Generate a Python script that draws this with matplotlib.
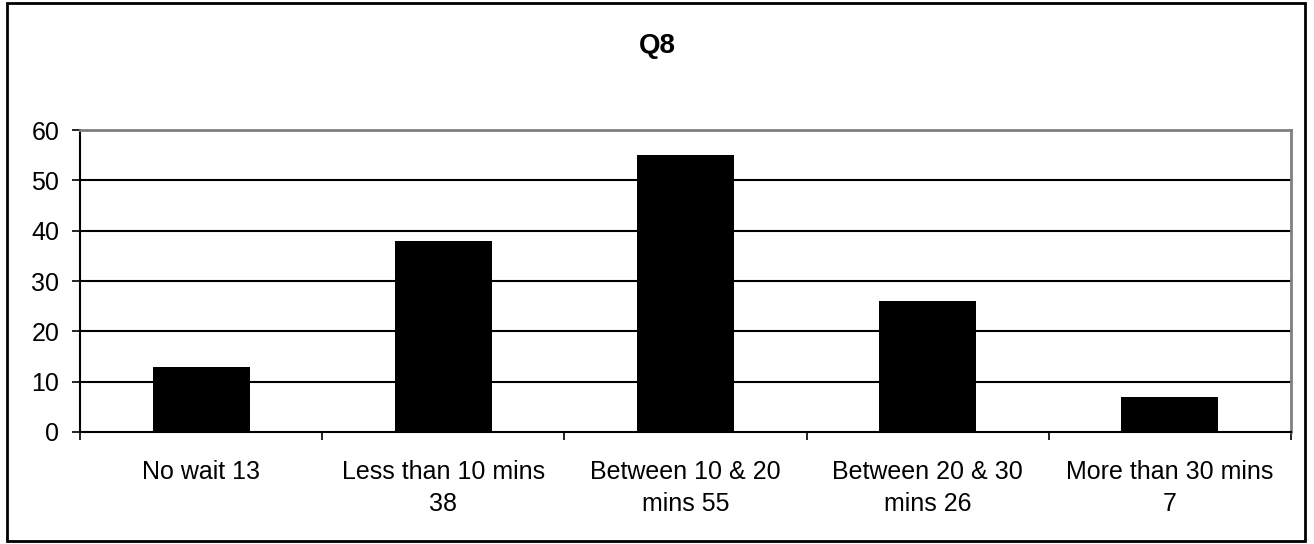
import matplotlib.pyplot as plt
from matplotlib.patches import Rectangle

categories = ['No wait 13', 'Less than 10 mins\n38', 'Between 10 & 20\nmins 55',
              'Between 20 & 30\nmins 26', 'More than 30 mins\n7']
values = [13, 38, 55, 26, 7]
yticks = [0, 10, 20, 30, 40, 50, 60]

plt.rcParams['font.family'] = ['Liberation Sans', 'DejaVu Sans']

fig = plt.figure(figsize=(13.14, 5.44), dpi=100)
ax = fig.add_axes([0.0609, 0.2059, 0.9216, 0.5551])

x = list(range(len(values)))
ax.bar(x, values, width=0.4, color='black', zorder=3)

ax.set_xlim(-0.5, len(values) - 0.5)
ax.set_ylim(0, 60)
ax.set_yticks(yticks)
ax.tick_params(axis='y', labelsize=18, length=6, width=1.2, direction='out', pad=9)
for y in yticks[1:-1]:
    ax.axhline(y, color='black', linewidth=1.5, zorder=1)

# category boundaries carry the ticks, labels sit between them
ax.set_xticks([i - 0.5 for i in range(len(values) + 1)])
ax.set_xticklabels([])
ax.set_xticks(x, minor=True)
ax.set_xticklabels(categories, minor=True, fontsize=18, linespacing=1.42)
ax.tick_params(axis='x', which='major', length=6, width=1.2, direction='out')
ax.tick_params(axis='x', which='minor', length=0, pad=20)

for side in ['top', 'right']:
    ax.spines[side].set_color('#808080')
    ax.spines[side].set_linewidth(2)
for side in ['left', 'bottom']:
    ax.spines[side].set_color('black')
    ax.spines[side].set_linewidth(1.5)
ax.spines['bottom'].set_zorder(4)

fig.text(0.5, 0.915, 'Q8', ha='center', va='center', fontsize=20, fontweight='bold')

fig.patches.append(Rectangle((0.0055, 0.006), 0.988, 0.988, transform=fig.transFigure,
                             fill=False, edgecolor='black', linewidth=2))

fig.savefig('out.png', dpi=100)
